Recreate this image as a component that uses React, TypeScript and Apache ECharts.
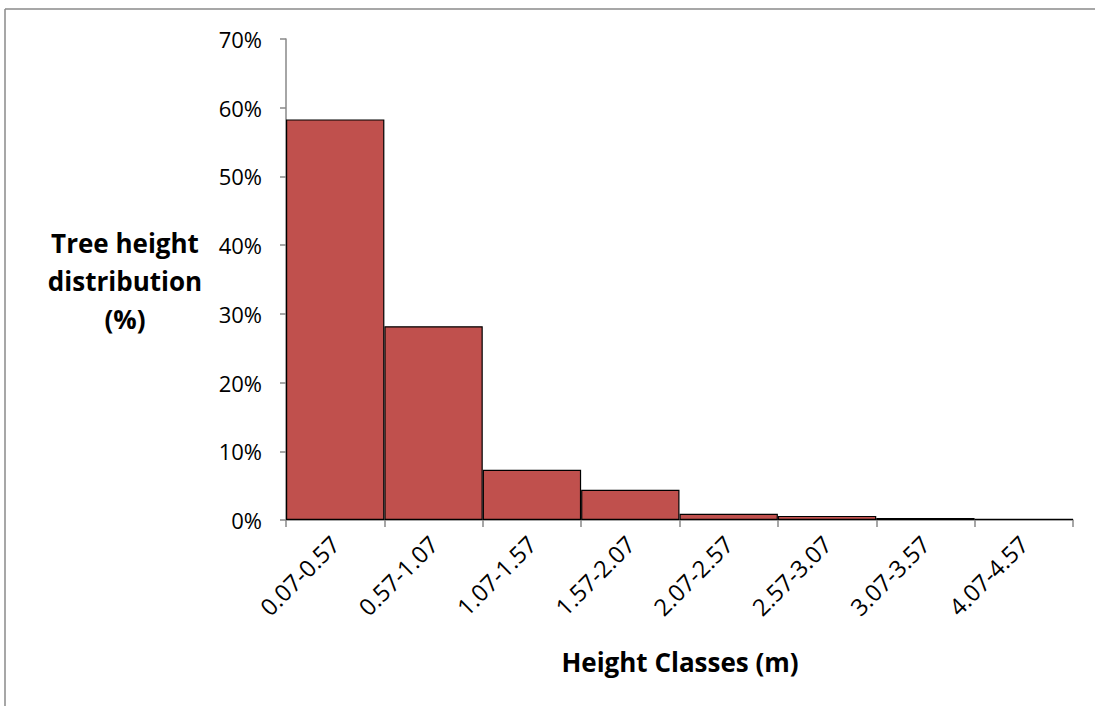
import React, { useEffect, useRef } from "react";
import * as echarts from "echarts";

const heightClasses = [
  "0.07-0.57",
  "0.57-1.07",
  "1.07-1.57",
  "1.57-2.07",
  "2.07-2.57",
  "2.57-3.07",
  "3.07-3.57",
  "4.07-4.57",
];
const sharePercent = [58.3, 28.2, 7.3, 4.4, 0.9, 0.6, 0.3, 0.2];
const yTicks = [0, 10, 20, 30, 40, 50, 60, 70];

const FONT = "'Open Sans', Lato, sans-serif";

export default function App() {
  const ref = useRef<HTMLDivElement>(null);

  useEffect(() => {
    if (!ref.current) return;
    const chart = echarts.init(ref.current, null, { renderer: "svg" });
    chart.setOption({
      animation: false,
      backgroundColor: "#ffffff",
      grid: { left: 286, top: 39, right: 22, bottom: 186 },
      xAxis: {
        type: "category",
        data: heightClasses,
        axisLine: { lineStyle: { color: "#898989", width: 1.5 } },
        axisTick: { show: true, length: 7, lineStyle: { color: "#898989", width: 1.5 } },
        axisLabel: {
          rotate: 45,
          fontSize: 23.5,
          color: "#000",
          fontFamily: FONT,
          margin: 20,
        },
      },
      yAxis: {
        type: "value",
        min: yTicks[0],
        max: yTicks[yTicks.length - 1],
        interval: 10,
        splitLine: { show: false },
        axisLine: { show: true, lineStyle: { color: "#898989", width: 1.5 } },
        axisTick: { show: true, length: 6, lineStyle: { color: "#898989", width: 1.5 } },
        axisLabel: {
          formatter: "{value}%",
          fontSize: 22,
          color: "#000",
          fontFamily: FONT,
          margin: 24,
        },
      },
      series: [
        {
          type: "bar",
          data: sharePercent,
          barCategoryGap: "0%",
          itemStyle: { color: "#C0504D", borderColor: "#000", borderWidth: 1.2 },
        },
      ],
      graphic: [
        {
          type: "line",
          shape: { x1: 5, y1: 9, x2: 1095, y2: 9 },
          style: { stroke: "#8a8a8a", lineWidth: 1.5 },
        },
        {
          type: "line",
          shape: { x1: 5, y1: 9, x2: 5, y2: 706 },
          style: { stroke: "#8a8a8a", lineWidth: 1.5 },
        },
        {
          type: "text",
          x: 125,
          y: 281,
          style: {
            text: "Tree height\ndistribution\n(%)",
            fontSize: 26,
            fontWeight: "bold",
            fontFamily: FONT,
            fill: "#000",
            align: "center",
            verticalAlign: "middle",
            lineHeight: 38,
          },
        },
        {
          type: "text",
          x: 680,
          y: 662,
          style: {
            text: "Height Classes (m)",
            fontSize: 26,
            fontWeight: "bold",
            fontFamily: FONT,
            fill: "#000",
            align: "center",
            verticalAlign: "middle",
          },
        },
      ],
    });
    return () => chart.dispose();
  }, []);

  return (
    <div
      ref={ref}
      style={{ position: "absolute", left: 0, top: 0, width: 1095, height: 706 }}
    />
  );
}
